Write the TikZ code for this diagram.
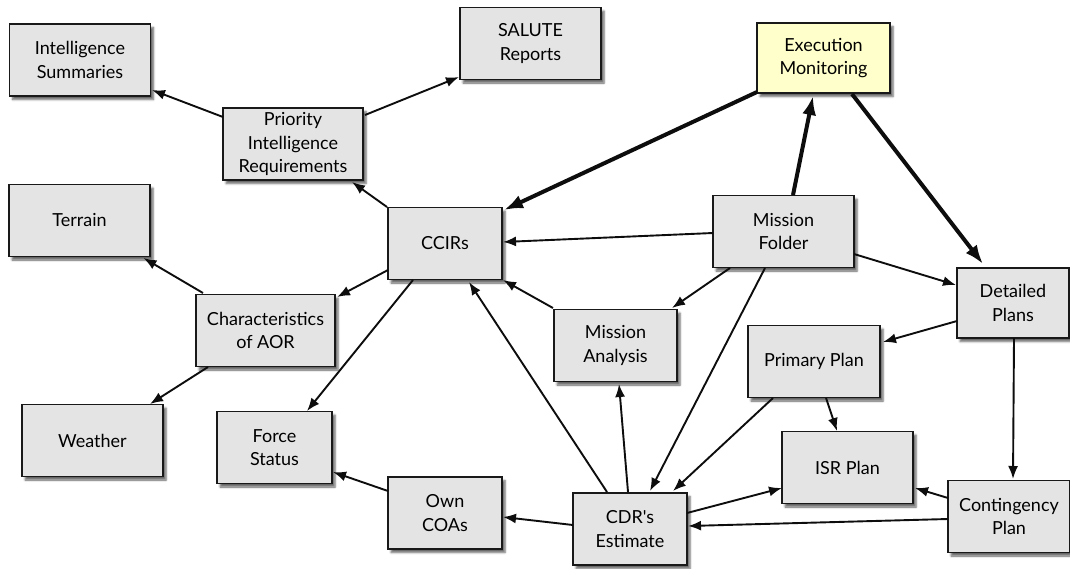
\documentclass[tikz,border=0pt]{standalone}
\usepackage{fontspec}
\setmainfont{Lato}
\usetikzlibrary{arrows.meta,shadows.blur}
\definecolor{boxfill}{HTML}{E4E4E4}
\definecolor{monfill}{HTML}{FFFFCC}
\begin{document}
\begin{tikzpicture}[x=1pt,y=-1pt,
  box/.style={draw=black!90, line width=1.7pt, fill=boxfill, align=center,
    inner sep=0pt, minimum height=72pt, text=black,
    font=\fontsize{18}{23.5}\selectfont,
    blur shadow={shadow xshift=3pt, shadow yshift=-3.5pt,
      shadow blur radius=2pt, shadow blur steps=5, shadow opacity=60}},
  monitor/.style={box, fill=monfill, line width=2.8pt},
  link/.style={line width=1.9pt, draw=black!95, -{Latex[length=13pt,width=10pt]}},
  heavy/.style={line width=4pt, draw=black!95, -{Latex[length=19pt,width=14pt]}},
]
\useasboundingbox (0,0) rectangle (1070,568);

% boxes
\node[box, minimum width=141pt] (is)  at (80,60)      {Intelligence\\Summaries};
\node[box, minimum width=141pt] (sal) at (530.5,43.5) {SALUTE\\Reports};
\node[monitor, minimum width=133pt, minimum height=70pt] (em) at (823.5,58) {Execution\\Monitoring};
\node[box, minimum width=140pt] (pir) at (293,144)    {Priority\\Intelligence\\Requirements};
\node[box, minimum width=141pt] (ter) at (79.5,220.5) {Terrain};
\node[box, minimum width=114pt] (cc)  at (445,243.5)  {CCIRs};
\node[box, minimum width=141pt] (mf)  at (783.5,231.5){Mission\\Folder};
\node[box, minimum width=112pt, minimum height=70pt] (dp) at (1013,303) {Detailed\\Plans};
\node[box, minimum width=139pt] (aor) at (265.5,330.5){Characteristics\\of AOR};
\node[box, minimum width=123pt] (ma)  at (615.5,345.5){Mission\\Analysis};
\node[box, minimum width=132pt] (pp)  at (814,361.5)  {Primary Plan};
\node[box, minimum width=141pt] (wx)  at (92.5,440.5) {Weather};
\node[box, minimum width=115pt] (fs)  at (274.5,447.5){Force\\Status};
\node[box, minimum width=131pt] (isr) at (847.5,467.5){ISR Plan};
\node[box, minimum width=114pt] (own) at (445,513)    {Own\\COAs};
\node[box, minimum width=114pt] (cdr) at (630,529)    {CDR\textquotesingle s\\Estimate};
\node[box, minimum width=122pt] (cp)  at (1009,516.5) {Contingency\\Plan};

% connectors
\draw[link] ([shift={(-70,-27)}]pir.center) -- ([shift={(72,30)}]is.center);
\draw[link] ([shift={(72,-29)}]pir.center) -- ([shift={(-71.5,33.5)}]sal.center);
\draw[link] ([shift={(-58,-36.5)}]cc.center) -- ([shift={(59,38)}]pir.center);
\draw[link] ([shift={(-62.5,-37.5)}]aor.center) -- ([shift={(64,37.5)}]ter.center);
\draw[link] ([shift={(-57,26.5)}]cc.center) -- ([shift={(71.5,-33.5)}]aor.center);
\draw[link] ([shift={(-57.5,36.5)}]aor.center) -- ([shift={(57.5,-36.5)}]wx.center);
\draw[link] ([shift={(-32,36.5)}]cc.center) -- ([shift={(32.5,-36.5)}]fs.center);
\draw[link] ([shift={(-57,-22)}]own.center) -- ([shift={(58.5,24.5)}]fs.center);
\draw[link] ([shift={(-57,-4)}]cdr.center) -- ([shift={(58,4)}]own.center);
\draw[link] ([shift={(-23,-37)}]cdr.center) -- ([shift={(24,38.5)}]cc.center);
\draw[link] ([shift={(-62.5,-37.5)}]ma.center) -- ([shift={(58,36.5)}]cc.center);
\draw[link] ([shift={(-70.5,1.5)}]mf.center) -- ([shift={(58,-1.5)}]cc.center);
\draw[link] ([shift={(70.5,22.5)}]mf.center) -- ([shift={(-57,-18)}]dp.center);
\draw[link] ([shift={(-53.5,36.5)}]mf.center) -- ([shift={(56.5,-37.5)}]ma.center);
\draw[link] ([shift={(-18.5,36.5)}]mf.center) -- ([shift={(20,-38)}]cdr.center);
\draw[link] ([shift={(-41,36.5)}]pp.center) -- ([shift={(43,-38)}]cdr.center);
\draw[link] ([shift={(-2,-37)}]cdr.center) -- ([shift={(3.5,38.5)}]ma.center);
\draw[link] ([shift={(-56,18)}]dp.center) -- ([shift={(69,-19.5)}]pp.center);
\draw[link] ([shift={(12,36.5)}]pp.center) -- ([shift={(-10.5,-36.5)}]isr.center);
\draw[link] ([shift={(1,35)}]dp.center) -- ([shift={(4,-37.5)}]cp.center);
\draw[link] ([shift={(-61,-18.5)}]cp.center) -- ([shift={(67.5,20.5)}]isr.center);
\draw[link] ([shift={(57,-16)}]cdr.center) -- ([shift={(-65.5,20.5)}]isr.center);
\draw[link] ([shift={(-61,2.5)}]cp.center) -- ([shift={(58,-3)}]cdr.center);

% heavy connectors around execution monitoring
\draw[heavy] ([shift={(-66.5,34)}]em.center) -- ([shift={(59,-33.5)}]cc.center);
\draw[heavy] ([shift={(9.5,-36.5)}]mf.center) -- ([shift={(-10.5,38)}]em.center);
\draw[heavy] ([shift={(28.5,36)}]em.center) -- ([shift={(-30,-39)}]dp.center);
\end{tikzpicture}
\end{document}
